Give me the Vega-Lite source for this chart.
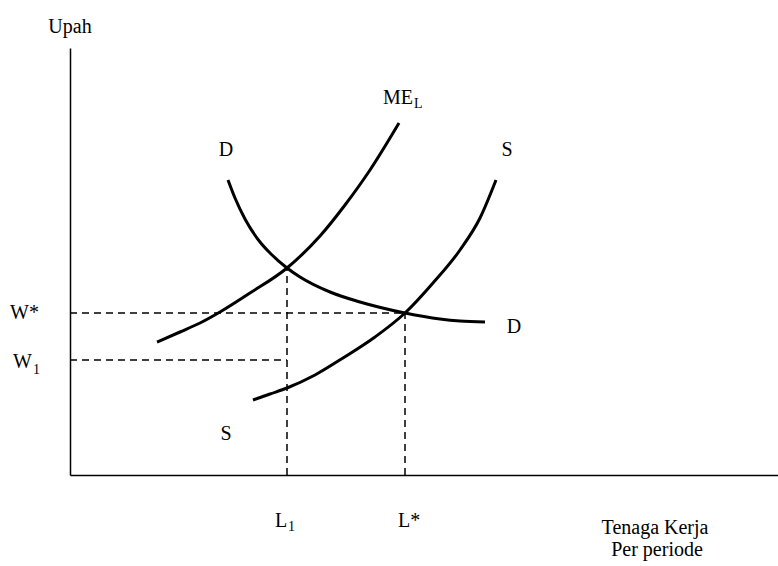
{
  "$schema": "https://vega.github.io/schema/vega-lite/v6.json",
  "width": 708,
  "height": 427,
  "autosize": {"type": "none"},
  "padding": {"left": 70, "top": 48, "right": 0, "bottom": 91},
  "background": "white",
  "config": {
    "view": {"stroke": null},
    "axis": {"labels": false, "ticks": false, "grid": false, "title": null, "domainColor": "#000", "domainWidth": 1.5},
    "text": {"font": "Liberation Serif", "color": "#000"}
  },
  "datasets": {
    "curves": [
      {"curve": "MEL", "i": 1, "x": 87, "y": 133},
      {"curve": "MEL", "i": 2, "x": 110, "y": 143},
      {"curve": "MEL", "i": 3, "x": 130, "y": 152},
      {"curve": "MEL", "i": 4, "x": 150, "y": 163},
      {"curve": "MEL", "i": 5, "x": 180, "y": 182},
      {"curve": "MEL", "i": 6, "x": 217, "y": 207},
      {"curve": "MEL", "i": 7, "x": 250, "y": 239},
      {"curve": "MEL", "i": 8, "x": 275, "y": 270},
      {"curve": "MEL", "i": 9, "x": 300, "y": 305},
      {"curve": "MEL", "i": 10, "x": 329, "y": 352},
      {"curve": "D", "i": 1, "x": 158, "y": 295},
      {"curve": "D", "i": 2, "x": 165, "y": 277},
      {"curve": "D", "i": 3, "x": 175, "y": 256},
      {"curve": "D", "i": 4, "x": 190, "y": 233},
      {"curve": "D", "i": 5, "x": 200, "y": 222},
      {"curve": "D", "i": 6, "x": 217, "y": 207},
      {"curve": "D", "i": 7, "x": 230, "y": 198},
      {"curve": "D", "i": 8, "x": 260, "y": 183},
      {"curve": "D", "i": 9, "x": 290, "y": 173},
      {"curve": "D", "i": 10, "x": 335, "y": 162},
      {"curve": "D", "i": 11, "x": 370, "y": 156},
      {"curve": "D", "i": 12, "x": 390, "y": 154},
      {"curve": "D", "i": 13, "x": 415, "y": 153},
      {"curve": "S", "i": 1, "x": 183, "y": 75},
      {"curve": "S", "i": 2, "x": 200, "y": 81},
      {"curve": "S", "i": 3, "x": 217, "y": 87},
      {"curve": "S", "i": 4, "x": 245, "y": 100},
      {"curve": "S", "i": 5, "x": 273, "y": 117},
      {"curve": "S", "i": 6, "x": 305, "y": 138},
      {"curve": "S", "i": 7, "x": 335, "y": 162},
      {"curve": "S", "i": 8, "x": 363, "y": 192},
      {"curve": "S", "i": 9, "x": 390, "y": 225},
      {"curve": "S", "i": 10, "x": 410, "y": 257},
      {"curve": "S", "i": 11, "x": 426, "y": 295}
    ],
    "guides": [
      {"name": "W*", "x": 0, "x2": 335, "y": 162, "y2": 162},
      {"name": "W1", "x": 0, "x2": 217, "y": 115, "y2": 115},
      {"name": "L1", "x": 217, "x2": 217, "y": 0, "y2": 207},
      {"name": "L*", "x": 335, "x2": 335, "y": 0, "y2": 162}
    ],
    "centerLabels": [
      {"label": "Upah", "x": 0, "y": 442},
      {"label": "D", "x": 156, "y": 319},
      {"label": "S", "x": 437, "y": 319},
      {"label": "D", "x": 444, "y": 142},
      {"label": "S", "x": 156, "y": 35},
      {"label": "Tenaga Kerja", "x": 585, "y": -59},
      {"label": "Per periode", "x": 587, "y": -81}
    ],
    "leftLabels": [
      {"label": "ME", "x": 313, "y": 371},
      {"label": "W*", "x": -60, "y": 156},
      {"label": "W", "x": -57, "y": 107},
      {"label": "L", "x": 205, "y": -52},
      {"label": "L*", "x": 328, "y": -52}
    ],
    "subLabels": [
      {"label": "L", "x": 344, "y": 367},
      {"label": "1", "x": -37, "y": 101},
      {"label": "1", "x": 218, "y": -56}
    ]
  },
  "layer": [
    {
      "data": {"name": "curves"},
      "mark": {"type": "line", "color": "#000", "strokeWidth": 3, "interpolate": "monotone", "strokeCap": "butt"},
      "encoding": {
        "x": {"field": "x", "type": "quantitative", "scale": {"domain": [0, 708], "nice": false, "zero": false}, "title": null},
        "y": {"field": "y", "type": "quantitative", "scale": {"domain": [0, 427], "nice": false, "zero": false}, "title": null},
        "detail": {"field": "curve"},
        "order": {"field": "i", "type": "quantitative"}
      }
    },
    {
      "data": {"name": "guides"},
      "mark": {"type": "rule", "color": "#000", "strokeWidth": 1.5, "strokeDash": [7, 5]},
      "encoding": {
        "x": {"field": "x", "type": "quantitative", "title": null},
        "x2": {"field": "x2"},
        "y": {"field": "y", "type": "quantitative", "title": null},
        "y2": {"field": "y2"}
      }
    },
    {
      "data": {"name": "centerLabels"},
      "mark": {"type": "text", "fontSize": 20, "align": "center", "baseline": "alphabetic"},
      "encoding": {
        "x": {"field": "x", "type": "quantitative", "title": null},
        "y": {"field": "y", "type": "quantitative", "title": null},
        "text": {"field": "label"}
      }
    },
    {
      "data": {"name": "leftLabels"},
      "mark": {"type": "text", "fontSize": 20, "align": "left", "baseline": "alphabetic"},
      "encoding": {
        "x": {"field": "x", "type": "quantitative", "title": null},
        "y": {"field": "y", "type": "quantitative", "title": null},
        "text": {"field": "label"}
      }
    },
    {
      "data": {"name": "subLabels"},
      "mark": {"type": "text", "fontSize": 14, "align": "left", "baseline": "alphabetic"},
      "encoding": {
        "x": {"field": "x", "type": "quantitative", "title": null},
        "y": {"field": "y", "type": "quantitative", "title": null},
        "text": {"field": "label"}
      }
    }
  ]
}
